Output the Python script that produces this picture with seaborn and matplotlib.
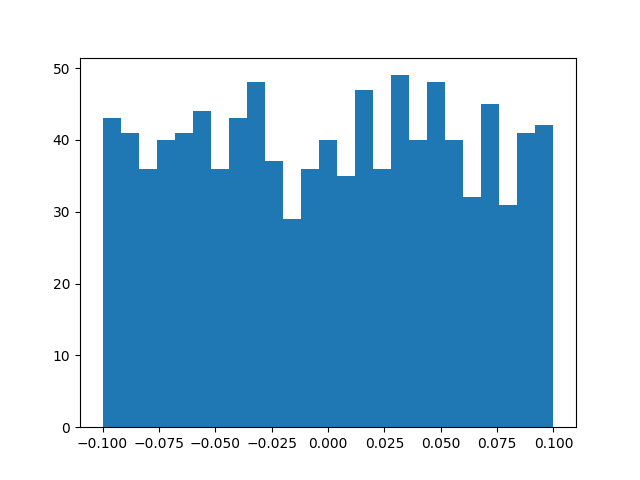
import numpy as np
import pandas as pd
import matplotlib
matplotlib.use('Agg')
import matplotlib.pyplot as plt
import seaborn as sns

# 히스토그램 값 (25개 구간, -0.1 ~ 0.1)
bin_lo = -0.1
bin_hi = 0.1
n_bins = 25
counts = [43, 41, 36, 40, 41, 44, 36, 43, 48, 37, 29, 36, 40,
          35, 47, 36, 49, 40, 48, 40, 32, 45, 31, 41, 42]

edges = np.linspace(bin_lo, bin_hi, n_bins + 1)
df = pd.DataFrame({'x': (edges[:-1] + edges[1:]) / 2, 'count': counts})

fig, ax = plt.subplots(figsize=(6.4, 4.8), dpi=100)
sns.histplot(data=df, x='x', weights='count', bins=n_bins,
             binrange=(bin_lo, bin_hi), ax=ax,
             color='#1f77b4', alpha=1, edgecolor='none', linewidth=0)
ax.set_xlabel('')
ax.set_ylabel('')

fig.savefig('out.png', dpi=100)
